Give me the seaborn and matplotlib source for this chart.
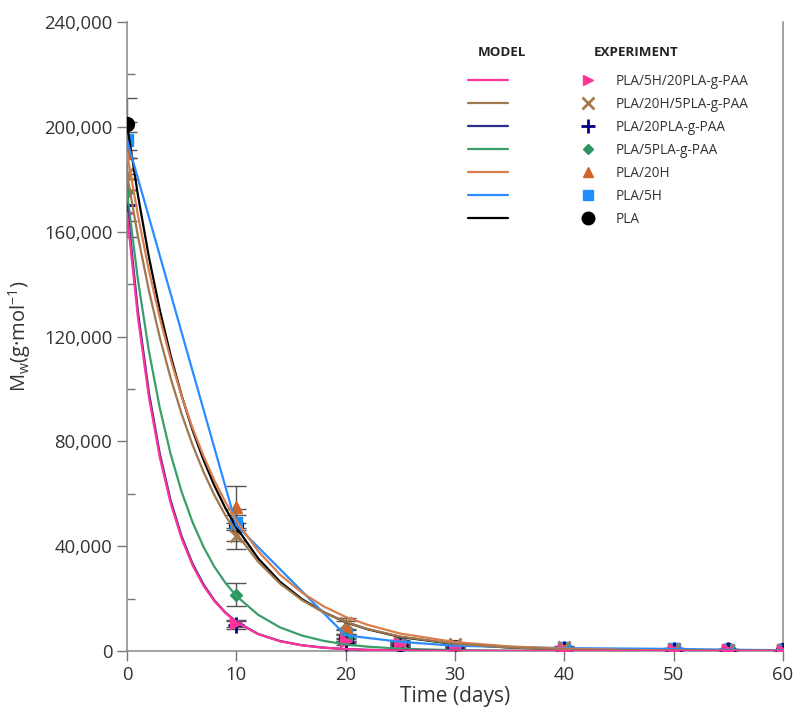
import numpy as np
import pandas as pd
import seaborn as sns
import matplotlib.pyplot as plt
from matplotlib.lines import Line2D
from matplotlib.ticker import FuncFormatter, MultipleLocator

sns.set_style("ticks")
plt.rcParams['font.family'] = ['Open Sans', 'DejaVu Sans']

# series names (legend order)
names = ["PLA/5H/20PLA-g-PAA", "PLA/20H/5PLA-g-PAA", "PLA/20PLA-g-PAA",
         "PLA/5PLA-g-PAA", "PLA/20H", "PLA/5H", "PLA"]
line_colors = ["#ff3399", "#a07850", "#2e2e8f", "#3a9e68", "#d97f4e", "#2b8cff", "#000000"]
mark_colors = ["#ff3399", "#a87a4f", "#000080", "#2e9460", "#d0662a", "#1e8fff", "#000000"]
markers = [">", "x", "+", "D", "^", "s", "o"]
msizes = [8, 9, 11, 6, 8, 8, 10]

# model curves
model_t = [0, 1, 2, 3, 4, 5, 6, 7, 8, 9, 10, 12, 14, 16, 18, 20, 22, 25, 30, 35, 40, 45, 50, 55, 60]
m_pink = [167000, 127300, 97000, 73900, 56300, 42900, 32700, 24900, 19000, 14500, 11000, 6400, 3700,
          2150, 1250, 730, 420, 185, 48, 12, 3, 0, 0, 0, 0]
m_brown = [182000, 158200, 137600, 119600, 104000, 90400, 78600, 68300, 59400, 51700, 44900, 34000,
           25700, 19400, 14700, 11100, 8400, 5500, 2730, 1350, 670, 330, 165, 80, 40]
m_navy = [170000, 129500, 98700, 75200, 57300, 43700, 33300, 25400, 19300, 14700, 11200, 6500, 3800,
          2200, 1270, 740, 430, 190, 50, 12, 3, 0, 0, 0, 0]
m_green = [175000, 141600, 114500, 92700, 75000, 60700, 49100, 39700, 32100, 26000, 21000, 13800, 9000,
           5900, 3850, 2520, 1650, 870, 300, 105, 36, 12, 4, 1, 0]
m_orange = [190000, 166200, 145300, 127100, 111200, 97200, 85000, 74400, 65000, 56900, 49700, 38100,
            29100, 22300, 17000, 13000, 10000, 6650, 3400, 1740, 890, 450, 230, 120, 60]
m_black = [201000, 173900, 150400, 130100, 112600, 97400, 84200, 72900, 63000, 54500, 47200, 35300,
           26400, 19800, 14800, 11000, 8300, 5350, 2600, 1300, 610, 300, 145, 70, 35]
blue_t = [0, 10, 20, 25, 30, 40, 50, 55, 60]
m_blue = [195000, 48000, 6000, 3500, 2000, 1100, 800, 500, 300]

# experiment
exp_t = [0, 10, 20, 25, 30, 40, 50, 55, 60]
e_pink = [167000, 10500, 3800, 2800, 1500, 500, 300, 200, 100]
e_brown = [182000, 44000, 10500, 3500, 2500, 1500, 700, 400, 200]
e_navy = [170000, 10000, 3000, 2000, 1000, 800, 500, 300, 100]
e_green = [175000, 21500, 5000, 2500, 1500, 800, 500, 300, 200]
e_orange = [190000, 55000, 9000, 3000, 2000, 1200, 600, 400, 200]
e_blue = [195000, 49000, 6500, 2500, 1500, 1200, 900, 500, 300]
e_black = [201000, 48000, 5000, 2500, 1500, 800, 500, 300, 200]
err_pink = [9000, 1500, 800, 600, 400, 300, 200, 200, 200]
err_brown = [6000, 5000, 2000, 800, 600, 400, 300, 200, 200]
err_navy = [6000, 1500, 800, 600, 400, 300, 200, 200, 200]
err_green = [5000, 4500, 1000, 600, 400, 300, 200, 200, 200]
err_orange = [8000, 8000, 2500, 800, 600, 400, 300, 200, 200]
err_blue = [7000, 3000, 1500, 800, 600, 400, 300, 200, 200]
err_black = [10000, 6000, 1500, 800, 600, 400, 300, 200, 200]

model_vals = [m_pink, m_brown, m_navy, m_green, m_orange, None, m_black]
exp_vals = [e_pink, e_brown, e_navy, e_green, e_orange, e_blue, e_black]
exp_errs = [err_pink, err_brown, err_navy, err_green, err_orange, err_blue, err_black]

rows = []
for n, v in zip(names, model_vals):
    if v is None:
        for t, y in zip(blue_t, m_blue):
            rows.append((n, t, y))
    else:
        for t, y in zip(model_t, v):
            rows.append((n, t, y))
model_df = pd.DataFrame(rows, columns=["series", "t", "Mw"])

fig = plt.figure(figsize=(7.95, 7.24), dpi=100)
ax = fig.add_axes([127/795, 1-651/724, 656/795, 629/724])

# error bars + markers (PLA first, so the pink ones end up on top)
for i in reversed(range(len(names))):
    ax.errorbar(exp_t, exp_vals[i], yerr=exp_errs[i], fmt="none", ecolor="#555555",
                elinewidth=1, capsize=7, capthick=1, zorder=2)
for i in reversed(range(len(names))):
    thick = markers[i] in ("x", "+")
    ax.plot(exp_t, exp_vals[i], linestyle="none", marker=markers[i], ms=msizes[i],
            color=mark_colors[i], mew=2 if thick else 1, zorder=3)

# model lines, pink drawn last
for i in reversed(range(len(names))):
    sub = model_df[model_df["series"] == names[i]]
    sns.lineplot(data=sub, x="t", y="Mw", color=line_colors[i], linewidth=1.6,
                 legend=False, ax=ax, zorder=4)

ax.set_xlim(0, 60)
ax.set_ylim(0, 240000)
ax.set_xticks([0, 10, 20, 30, 40, 50, 60])
ax.set_yticks(np.arange(0, 240001, 40000))
ax.yaxis.set_minor_locator(MultipleLocator(20000))
ax.yaxis.set_major_formatter(FuncFormatter(lambda v, p: f"{int(v):,}"))
ax.tick_params(axis="both", which="major", direction="out", length=7, width=1,
               color="#777777", labelsize=13.3, labelcolor="#333333")
ax.tick_params(axis="y", which="minor", direction="in", length=6, width=1, color="#777777")
for s in ["left", "bottom", "right"]:
    ax.spines[s].set_color("#888888")
    ax.spines[s].set_linewidth(1.1)
ax.spines["top"].set_visible(False)

ax.set_xlabel("Time (days)", fontsize=15, color="#333333", labelpad=2)
ax.set_ylabel("M$_\\mathregular{w}$(g·mol$^{\\mathregular{-1}}$)", fontsize=14.5, color="#333333")
ax.yaxis.set_label_coords(-0.143, 0.5)

# legend: model lines (no labels) and experiment markers
handles = [Line2D([], [], color=c, lw=1.6) for c in line_colors]
handles += [Line2D([], [], color=mark_colors[i], marker=markers[i], linestyle="none",
                   ms=msizes[i] - 1, mew=2 if markers[i] in ("x", "+") else 1)
            for i in range(len(names))]
labels = [""] * len(names) + names
ax.legend(handles, labels, ncol=2, loc="upper left", bbox_to_anchor=(0.52, 0.918),
          frameon=False, fontsize=9.8, handlelength=2.94, handletextpad=0.55,
          columnspacing=3.86, labelspacing=0.59, borderpad=0, borderaxespad=0,
          labelcolor="#333333")
ax.text(0.535, 0.952, "MODEL", transform=ax.transAxes, fontsize=9.6, fontweight="bold",
        va="center", ha="left", color="#222222")
ax.text(0.712, 0.952, "EXPERIMENT", transform=ax.transAxes, fontsize=9.6, fontweight="bold",
        va="center", ha="left", color="#222222")

fig.savefig("out.png", dpi=100)
